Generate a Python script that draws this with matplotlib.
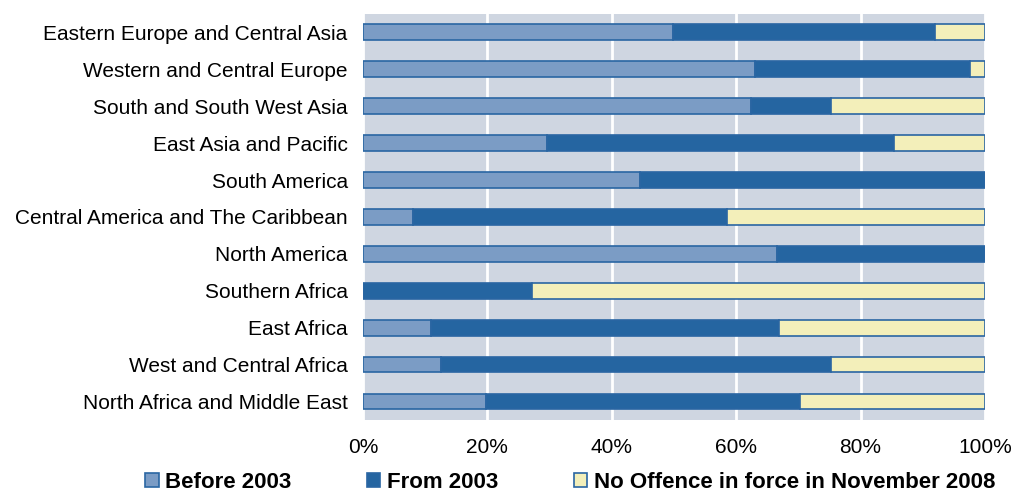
import matplotlib
matplotlib.use("Agg")
import matplotlib.pyplot as plt
from matplotlib.ticker import PercentFormatter

# regions, top to bottom as in the picture
regions = [
    "Eastern Europe and Central Asia",
    "Western and Central Europe",
    "South and South West Asia",
    "East Asia and Pacific",
    "South America",
    "Central America and The Caribbean",
    "North America",
    "Southern Africa",
    "East Africa",
    "West and Central Africa",
    "North Africa and Middle East",
]
# shares in percent
before_2003 = [49.8, 63.1, 62.4, 29.6, 44.5, 8.0, 66.5, 0.0, 10.9, 12.6, 19.8]
from_2003 = [42.2, 34.5, 12.8, 55.7, 55.5, 50.6, 33.5, 27.2, 55.9, 62.6, 50.4]
no_offence = [8.0, 2.4, 24.8, 14.7, 0.0, 41.4, 0.0, 72.8, 33.2, 24.8, 29.8]

c_before = "#7b9cc5"
c_from = "#2565a1"
c_none = "#f3efba"
c_edge = "#2a66a3"
c_bg = "#cfd6e1"

plt.rcParams["font.family"] = ["Liberation Sans", "DejaVu Sans"]

fig = plt.figure(figsize=(10.13, 4.94), dpi=100)
ax = fig.add_axes([0.3583, 0.150, 0.6141, 0.8217])
ax.set_facecolor(c_bg)

y = list(range(len(regions)))[::-1]
h = 0.43
left2 = [a for a in before_2003]
left3 = [a + b for a, b in zip(before_2003, from_2003)]
ax.barh(y, before_2003, height=h, color=c_before, edgecolor=c_edge, linewidth=1.2,
        label="Before 2003", zorder=3)
ax.barh(y, from_2003, left=left2, height=h, color=c_from, edgecolor=c_edge, linewidth=1.2,
        label="From 2003", zorder=3)
ax.barh(y, no_offence, left=left3, height=h, color=c_none, edgecolor=c_edge, linewidth=1.2,
        label="No Offence in force in November 2008", zorder=3)

ax.set_xlim(0, 100)
ax.set_ylim(-0.5, len(regions) - 0.5)
ax.set_xticks([0, 20, 40, 60, 80, 100])
ax.xaxis.set_major_formatter(PercentFormatter(decimals=0))
ax.set_yticks(y)
ax.set_yticklabels(regions, fontsize=15)
ax.tick_params(axis="x", length=0, labelsize=15, pad=13)
ax.tick_params(axis="y", length=0, pad=11)
ax.grid(axis="x", color="white", linewidth=2, zorder=1)
for s in ax.spines.values():
    s.set_visible(False)

leg = fig.legend(loc="lower center", bbox_to_anchor=(0.563, -0.038), ncol=3, frameon=False,
                 prop={"weight": "bold", "size": 16}, handlelength=0.6, handleheight=0.6,
                 handletextpad=0.3, columnspacing=3.4)

fig.savefig("out.png", dpi=100)
